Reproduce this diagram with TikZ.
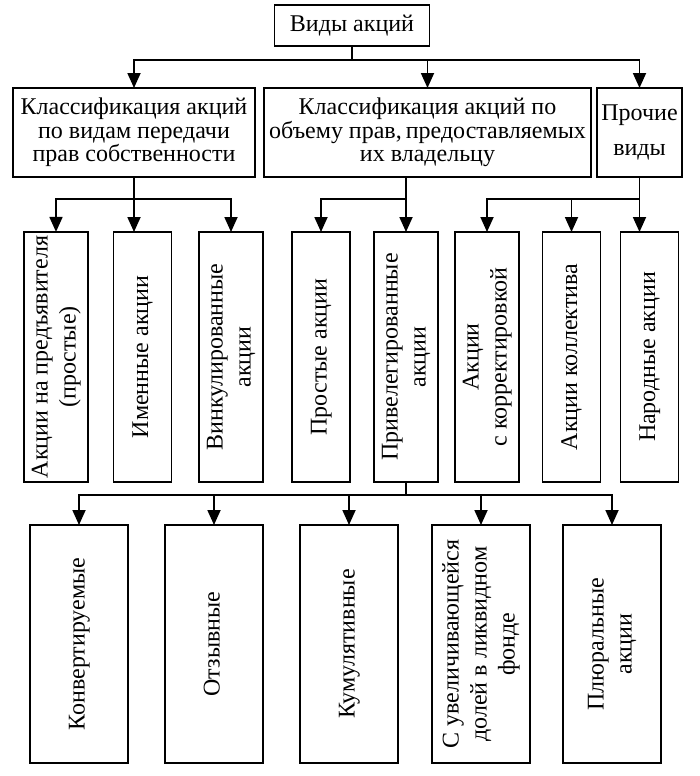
\documentclass[tikz,border=0pt]{standalone}
\usepackage{fontspec}
\setmainfont{Liberation Serif}
\usepackage{graphicx}
\usetikzlibrary{arrows.meta}
\newcommand{\vlab}[1]{\rotatebox{90}{\begin{tabular}{@{}c@{}}#1\end{tabular}}}

\begin{document}
\begin{tikzpicture}[x=0.5pt,y=-0.5pt,inner sep=0pt,outer sep=0pt,line width=0.9pt,
box/.style={draw,rectangle,inner sep=2pt,align=center,font=\fontsize{12}{11.8}\selectfont},
catbox/.style={box,minimum height=44.5pt},
typebox/.style={box,minimum width=29pt,minimum height=125pt,font=\fontsize{12}{14}\selectfont},
subbox/.style={box,minimum width=49pt,minimum height=119pt,font=\fontsize{12}{14}\selectfont},
arr/.style={-{Triangle[width=6.5pt,length=7.5pt]}}]
\useasboundingbox (0,0) rectangle (700,776);
% top
\draw (352,25.5) node[box,minimum width=77.5pt,minimum height=20.5pt] (root) {Виды акций};
% classifications
\draw (134,132.5) node[catbox,minimum width=121pt] (trans) {Классификация акций\\по видам передачи\\прав собственности};
\draw (427.5,132.5) node[catbox,minimum width=163.5pt] (rights) {Классификация акций по\\объему прав,\,предоставляемых\\их владельцу};
\draw (639.5,132.5) node[catbox,minimum width=41pt] (other) {Прочие\\[6pt]виды};
% kinds of shares
\draw (56,357) node[typebox] (bearer) {\vlab{Акции на предъявителя\\(простые)}};
\draw (142.5,357) node[typebox] (named) {\vlab{Именные акции}};
\draw (231,357) node[typebox] (vinc) {\vlab{Винкулированные\\акции}};
\draw (321,357) node[typebox] (common) {\vlab{Простые акции}};
\draw (406,357) node[typebox] (pref) {\vlab{Привелегированные\\акции}};
\draw (487,357) node[typebox] (adj) {\vlab{Акции\\с корректировкой}};
\draw (571.5,357) node[typebox] (coll) {\vlab{Акции коллектива}};
\draw (649.5,357) node[typebox] (folk) {\vlab{Народные акции}};
% preferred shares
\draw (79,644) node[subbox] (conv) {\vlab{Конвертируемые}};
\draw (214,644) node[subbox] (call) {\vlab{Отзывные}};
\draw (349,644) node[subbox] (cumul) {\vlab{Кумулятивные}};
\draw (481,644) node[subbox] (liq) {\vlab{С увеличивающейся\\долей в ликвидном\\фонде}};
\draw (612,644) node[subbox] (plural) {\vlab{Плюральные\\акции}};
% connectors
\draw[arr] (root.south) -- ++(0,14) -| (trans.north);
\draw[arr] (root.south) -- ++(0,14) -| (rights.north);
\draw[arr] (root.south) -- ++(0,14) -| (other.north);
\draw[arr] (trans.south) -- ++(0,22) -| (bearer.north);
\draw[arr] (trans.south) -- ++(0,22) -| (vinc.north);
\draw[arr] (trans.south) -- (trans.south |- named.north);
\draw[arr] (rights.south -| pref.north) -- (pref.north);
\draw[arr] (rights.south -| pref.north) -- ++(0,22) -| (common.north);
\draw[arr] (other.south) -- ++(0,22) -| (adj.north);
\draw[arr] (other.south) -- ++(0,22) -| (coll.north);
\draw[arr] (other.south) -- (other.south |- folk.north);
\draw[arr] (pref.south) -- ++(0,13) -| (conv.north);
\draw[arr] (pref.south) -- ++(0,13) -| (call.north);
\draw[arr] (pref.south) -- ++(0,13) -| (cumul.north);
\draw[arr] (pref.south) -- ++(0,13) -| (liq.north);
\draw[arr] (pref.south) -- ++(0,13) -| (plural.north);
\end{tikzpicture}
\end{document}
